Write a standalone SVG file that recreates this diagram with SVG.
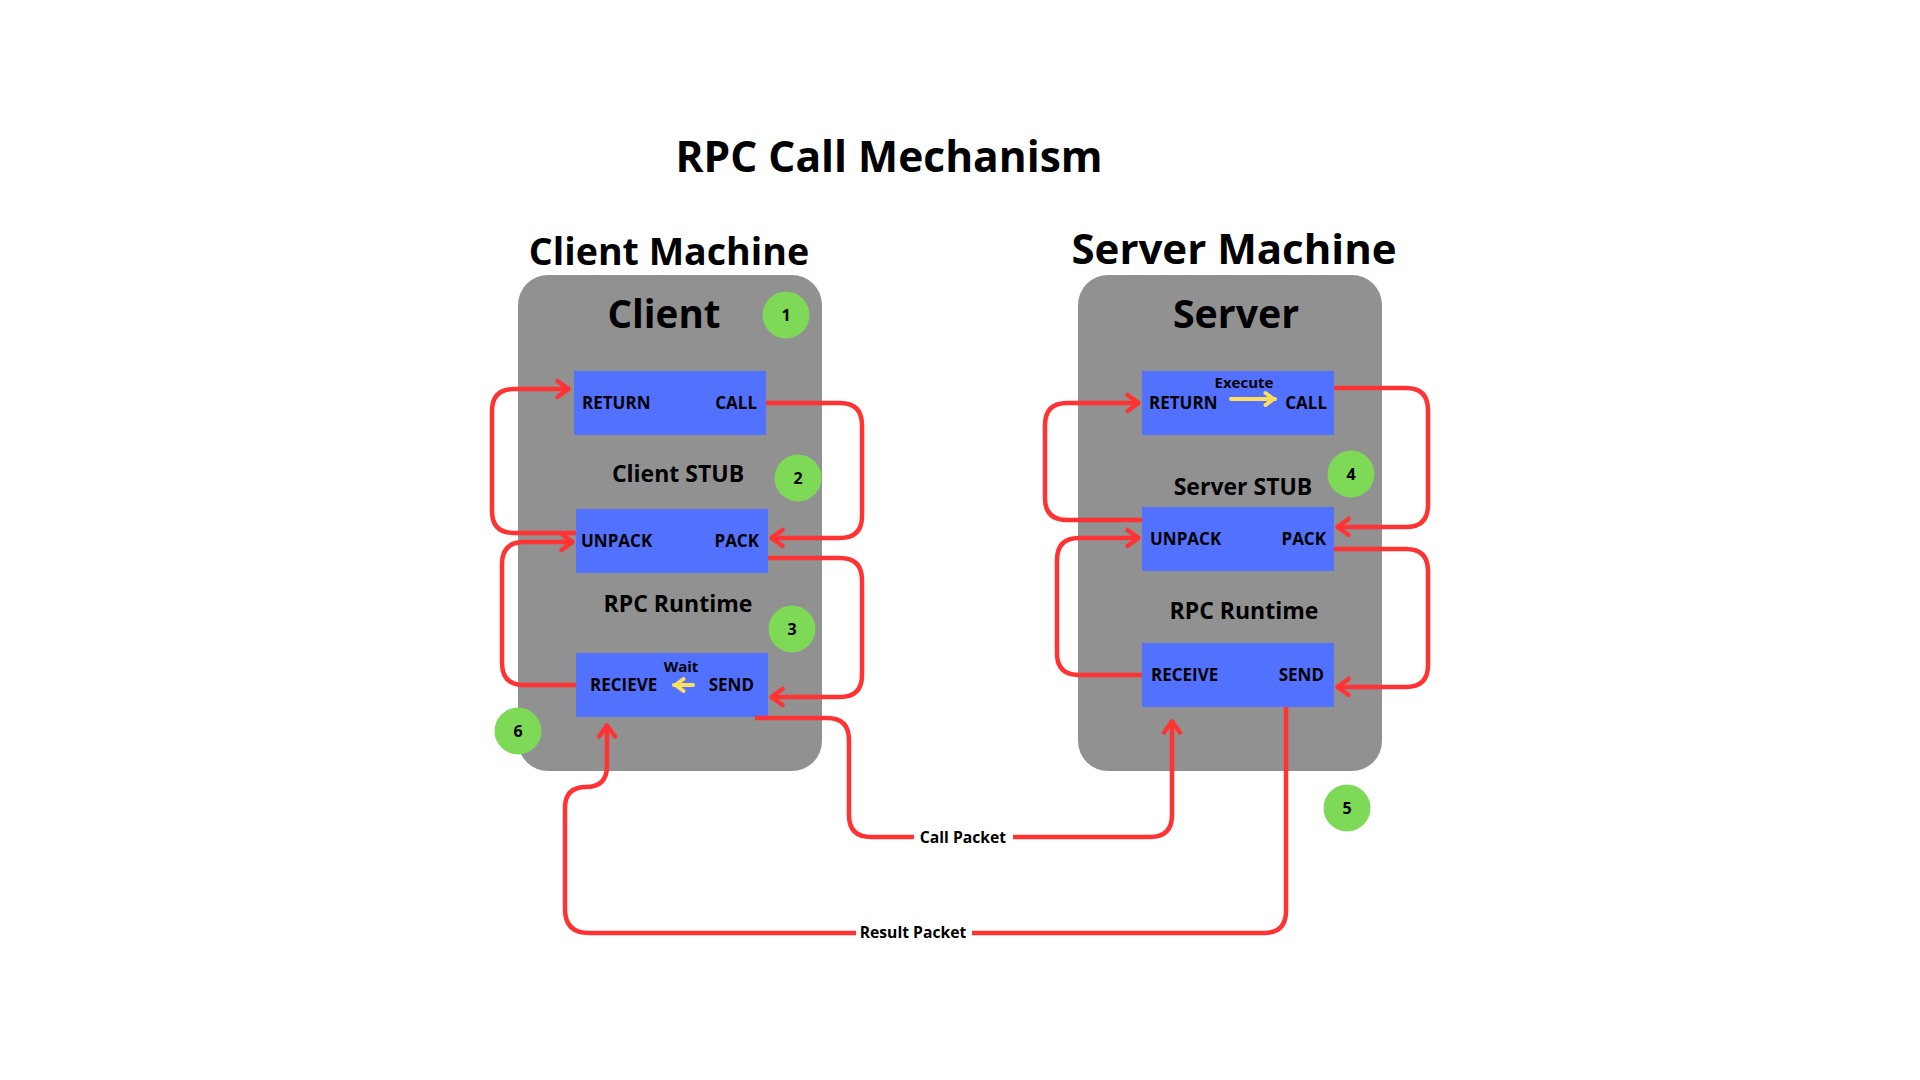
<svg xmlns="http://www.w3.org/2000/svg" width="1920" height="1080" viewBox="0 0 1920 1080">
  <style>
    text { font-family: "Open Sans", "Liberation Sans", sans-serif; font-weight: 700; fill: #000; }
    .machine { fill: #919191; }
    .box { fill: #5271ff; }
    .badge { fill: #7ed957; }
    .badge-t { font-size: 16px; text-anchor: middle; }
    .lbl { font-size: 17px; }
    .end { text-anchor: end; }
    .layer { font-size: 23px; text-anchor: middle; }
    .note { font-size: 15px; text-anchor: middle; }
    .pkt { font-size: 15.7px; text-anchor: middle; }
    .conn { fill: none; stroke: #ff3333; stroke-width: 4.5; stroke-linecap: butt; stroke-linejoin: round; }
    .yel { fill: none; stroke: #ffde59; stroke-width: 4; stroke-linecap: round; stroke-linejoin: round; }
  </style>
  <defs>
    <marker id="arrow" viewBox="-16 -12 20 24" markerUnits="userSpaceOnUse" markerWidth="20" markerHeight="24" refX="1.5" refY="0" orient="auto">
      <path d="M-11,-8 L0,0 L-11,8" fill="none" stroke="#ff3333" stroke-width="4.5" stroke-linecap="round" stroke-linejoin="round"/>
    </marker>
    <marker id="yarrow" viewBox="-14 -10 18 20" markerUnits="userSpaceOnUse" markerWidth="18" markerHeight="20" refX="1.5" refY="0" orient="auto">
      <path d="M-8,-6 L0,0 L-8,6" fill="none" stroke="#ffde59" stroke-width="4" stroke-linecap="round" stroke-linejoin="round"/>
    </marker>
  </defs>

  <rect width="1920" height="1080" fill="#ffffff"/>

  <text id="title" x="889" y="172" font-size="42.5" text-anchor="middle">RPC Call Mechanism</text>

  <g id="client-machine">
    <text x="669" y="265" font-size="37.6" text-anchor="middle">Client Machine</text>
    <rect class="machine" x="518" y="275" width="304" height="496" rx="30"/>
    <text x="664" y="328" font-size="38.6" text-anchor="middle">Client</text>
    <text class="layer" x="678" y="482">Client STUB</text>
    <text class="layer" x="678" y="612" font-size="23.7">RPC Runtime</text>
  </g>

  <g id="server-machine">
    <text x="1234" y="264" font-size="42" text-anchor="middle">Server Machine</text>
    <rect class="machine" x="1078" y="275" width="304" height="496" rx="30"/>
    <text x="1236" y="328" font-size="39.3" text-anchor="middle">Server</text>
    <text class="layer" x="1243" y="495">Server STUB</text>
    <text class="layer" x="1244" y="619" font-size="22.4">RPC Runtime</text>
  </g>

  <g id="client-return-call">
    <rect class="box" x="574" y="371" width="192" height="64"/>
    <text class="lbl" x="582" y="409">RETURN</text>
    <text class="lbl end" x="757" y="409">CALL</text>
  </g>
  <g id="client-unpack-pack">
    <rect class="box" x="576" y="509" width="192" height="64"/>
    <text class="lbl" x="581" y="547">UNPACK</text>
    <text class="lbl end" x="759" y="547">PACK</text>
  </g>
  <g id="client-recieve-send">
    <rect class="box" x="576" y="653" width="192" height="64"/>
    <text class="note" x="681" y="672">Wait</text>
    <text class="lbl" x="590" y="691">RECIEVE</text>
    <text class="lbl end" x="754" y="691">SEND</text>
    <path class="yel" d="M693,685 H674" marker-end="url(#yarrow)"/>
  </g>

  <g id="server-return-call">
    <rect class="box" x="1142" y="371" width="192" height="64"/>
    <text class="note" x="1244" y="388">Execute</text>
    <text class="lbl" x="1149" y="409">RETURN</text>
    <text class="lbl end" x="1327" y="409">CALL</text>
    <path class="yel" d="M1231,399 H1275" marker-end="url(#yarrow)"/>
  </g>
  <g id="server-unpack-pack">
    <rect class="box" x="1142" y="507" width="192" height="64"/>
    <text class="lbl" x="1150" y="545">UNPACK</text>
    <text class="lbl end" x="1326" y="545">PACK</text>
  </g>
  <g id="server-receive-send">
    <rect class="box" x="1142" y="643" width="192" height="64"/>
    <text class="lbl" x="1151" y="681">RECEIVE</text>
    <text class="lbl end" x="1324" y="681">SEND</text>
  </g>

  <g id="connectors">
    <path class="conn" d="M766,403 H840 Q862,403 862,425 V516 Q862,538 840,538 H770" marker-end="url(#arrow)"/>
    <path class="conn" d="M576,533 H514 Q492,533 492,511 V411 Q492,389 514,389 H570" marker-end="url(#arrow)"/>
    <path class="conn" d="M576,685 H524 Q502,685 502,663 V564 Q502,542 524,542 H574" marker-end="url(#arrow)"/>
    <path class="conn" d="M768,558 H840 Q862,558 862,580 V675 Q862,697 840,697 H770" marker-end="url(#arrow)"/>
    <path class="conn" d="M755,718 H827 Q849,718 849,740 V815 Q849,837 871,837 H1150 Q1172,837 1172,815 V720" marker-end="url(#arrow)"/>
    <path class="conn" d="M1286,707 V911 Q1286,933 1264,933 H589 Q565,933 565,909 V808 Q565,787 586,787 Q607,787 607,766 V724" marker-end="url(#arrow)"/>
    <path class="conn" d="M1334,388 H1406 Q1428,388 1428,410 V505 Q1428,527 1406,527 H1336" marker-end="url(#arrow)"/>
    <path class="conn" d="M1142,520 H1067 Q1045,520 1045,498 V425 Q1045,403 1067,403 H1140" marker-end="url(#arrow)"/>
    <path class="conn" d="M1142,675 H1079 Q1057,675 1057,653 V560 Q1057,538 1079,538 H1140" marker-end="url(#arrow)"/>
    <path class="conn" d="M1334,549 H1406 Q1428,549 1428,571 V665 Q1428,687 1406,687 H1336" marker-end="url(#arrow)"/>
    <rect x="914" y="826" width="99" height="22" fill="#ffffff"/>
    <text class="pkt" x="963" y="843">Call Packet</text>
    <rect x="856" y="922" width="116" height="22" fill="#ffffff"/>
    <text class="pkt" x="913" y="938">Result Packet</text>
  </g>

  <g id="step-1"><circle class="badge" cx="786" cy="315" r="23.5"/><text class="badge-t" x="786" y="321">1</text></g>
  <g id="step-2"><circle class="badge" cx="798" cy="478" r="23.5"/><text class="badge-t" x="798" y="484">2</text></g>
  <g id="step-3"><circle class="badge" cx="792" cy="629" r="23.5"/><text class="badge-t" x="792" y="635">3</text></g>
  <g id="step-4"><circle class="badge" cx="1351" cy="474" r="23.5"/><text class="badge-t" x="1351" y="480">4</text></g>
  <g id="step-5"><circle class="badge" cx="1347" cy="808" r="23.5"/><text class="badge-t" x="1347" y="814">5</text></g>
  <g id="step-6"><circle class="badge" cx="518" cy="731" r="23.5"/><text class="badge-t" x="518" y="737">6</text></g>
</svg>
